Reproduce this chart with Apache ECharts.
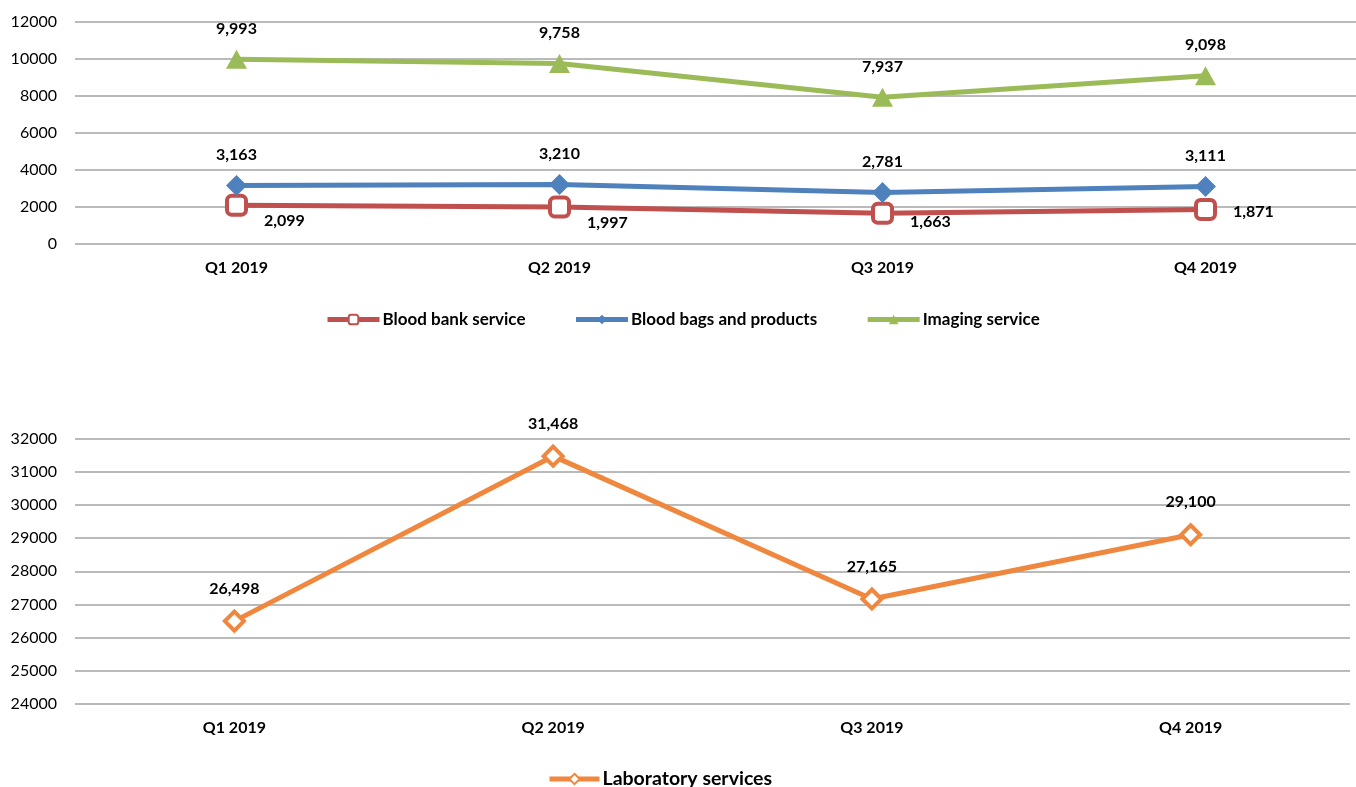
<!DOCTYPE html>
<html>
<head>
<meta charset="utf-8">
<script src="https://cdn.jsdelivr.net/npm/echarts@6/dist/echarts.min.js"></script>
<style>
  html, body { margin: 0; padding: 0; background: #fff; overflow: hidden; }
  /* the top plot runs a little past the right edge, like the original */
  #chart { width: 1368px; height: 787px; }
</style>
</head>
<body>
<div id="chart"></div>
<script>
var quarters = ['Q1 2019', 'Q2 2019', 'Q3 2019', 'Q4 2019']

var bloodBank = [2099, 1997, 1663, 1871]
var bloodBags = [3163, 3210, 2781, 3111]
var imaging = [9993, 9758, 7937, 9098]
var laboratory = [26498, 31468, 27165, 29100]

var topTicks = [0, 2000, 4000, 6000, 8000, 10000, 12000]
var bottomTicks = [24000, 25000, 26000, 27000, 28000, 29000, 30000, 31000, 32000]

// excel puts the blood bank labels a bit lower on the first points
var redLabelDy = [16, 16, 9, 2]

var font = 'Lato, "Open Sans", sans-serif'
var gridColor = '#a3a3a3'

function fmt(v) {
  return v.toLocaleString('en-US')
}

var labelBase = {
  show: true,
  color: '#000',
  fontFamily: font,
  fontWeight: 'bold',
  fontSize: 16,
  formatter: function (p) { return fmt(p.value) }
}

function xAxisFor(idx) {
  return {
    type: 'category',
    gridIndex: idx,
    data: quarters,
    boundaryGap: true,
    axisLine: { show: false },
    axisTick: { show: false },
    axisLabel: {
      color: '#000',
      fontFamily: font,
      fontWeight: 'bold',
      fontSize: 16,
      margin: 16
    }
  }
}

function yAxisFor(idx, ticks) {
  return {
    type: 'value',
    gridIndex: idx,
    min: ticks[0],
    max: ticks[ticks.length - 1],
    interval: ticks[1] - ticks[0],
    axisLine: { show: false },
    axisTick: { show: false },
    splitLine: { lineStyle: { color: gridColor, width: 1.5 } },
    axisLabel: {
      color: '#000',
      fontFamily: font,
      fontSize: 16,
      margin: 18,
      formatter: function (v) { return String(v) }
    }
  }
}

var myChart = echarts.init(document.getElementById('chart'))

var option = {
  animation: false,
  backgroundColor: '#fff',
  grid: [
    { left: 75, right: 1, top: 22, height: 222 },
    { left: 75, right: 18, top: 438.5, height: 265.5 }
  ],
  xAxis: [xAxisFor(0), xAxisFor(1)],
  yAxis: [yAxisFor(0, topTicks), yAxisFor(1, bottomTicks)],
  legend: [
    {
      data: ['Blood bank service', 'Blood bags and products', 'Imaging service'],
      left: 320,
      top: 306,
      itemWidth: 52,
      itemHeight: 12,
      itemGap: 48,
      lineStyle: { width: 5 },
      textStyle: { color: '#000', fontFamily: font, fontWeight: 'bold', fontSize: 17, padding: [0, 0, 0, -2] }
    },
    {
      data: ['Laboratory services'],
      left: 542,
      top: 764,
      itemWidth: 50,
      itemHeight: 13,
      lineStyle: { width: 5 },
      textStyle: { color: '#000', fontFamily: font, fontWeight: 'bold', fontSize: 19.5, padding: [0, 0, 0, -2] }
    }
  ],
  series: [
    {
      name: 'Blood bank service',
      type: 'line',
      xAxisIndex: 0,
      yAxisIndex: 0,
      symbol: 'roundRect',
      symbolSize: 19,
      lineStyle: { color: '#C0504D', width: 5 },
      itemStyle: { color: '#fff', borderColor: '#C0504D', borderWidth: 4 },
      label: Object.assign({}, labelBase, { position: 'right', distance: 16 }),
      data: bloodBank.map(function (v, i) {
        return { value: v, label: { offset: [0, redLabelDy[i]] } }
      }),
      z: 3
    },
    {
      name: 'Blood bags and products',
      type: 'line',
      xAxisIndex: 0,
      yAxisIndex: 0,
      symbol: 'diamond',
      symbolSize: 21,
      lineStyle: { color: '#4F81BD', width: 5 },
      itemStyle: { color: '#4F81BD' },
      label: Object.assign({}, labelBase, { position: 'top', distance: 12 }),
      data: bloodBags,
      z: 4
    },
    {
      name: 'Imaging service',
      type: 'line',
      xAxisIndex: 0,
      yAxisIndex: 0,
      symbol: 'triangle',
      symbolSize: [21, 19],
      lineStyle: { color: '#9BBB59', width: 5 },
      itemStyle: { color: '#9BBB59' },
      label: Object.assign({}, labelBase, { position: 'top', distance: 13 }),
      data: imaging,
      z: 4
    },
    {
      name: 'Laboratory services',
      type: 'line',
      xAxisIndex: 1,
      yAxisIndex: 1,
      symbol: 'diamond',
      symbolSize: 19,
      lineStyle: { color: '#F0873F', width: 5 },
      itemStyle: { color: '#fff', borderColor: '#F0873F', borderWidth: 4 },
      label: Object.assign({}, labelBase, { position: 'top', distance: 13 }),
      data: laboratory,
      z: 4
    }
  ]
}

myChart.setOption(option)
</script>
</body>
</html>
